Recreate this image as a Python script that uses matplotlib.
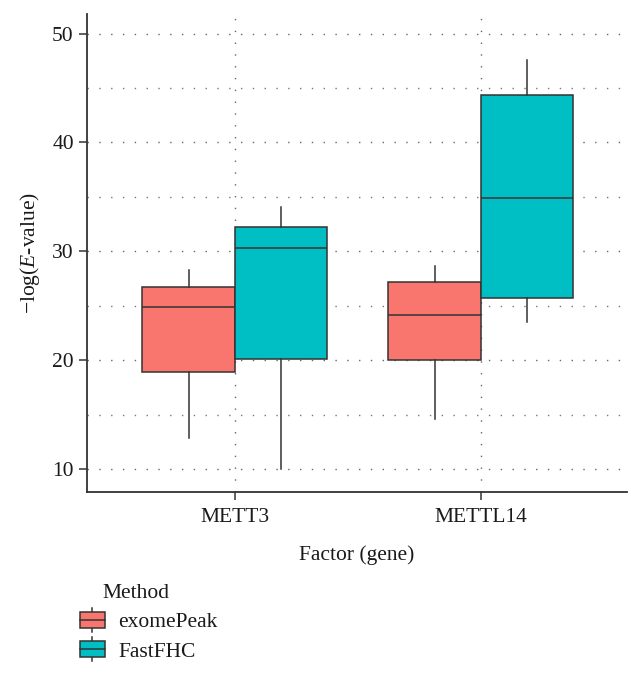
import matplotlib
matplotlib.use("Agg")
import matplotlib.pyplot as plt
from matplotlib.legend_handler import HandlerBase
from matplotlib.patches import Rectangle, Patch
from matplotlib.lines import Line2D
import numpy as np

genes = ["METT3", "METTL14"]
methods = ["exomePeak", "FastFHC"]
colors = ["#F8766D", "#00BFC4"]

# per method, per gene
whislo = {"exomePeak": [12.9, 14.6], "FastFHC": [10.0, 23.5]}
q1 = {"exomePeak": [18.9, 20.0], "FastFHC": [20.1, 25.7]}
med = {"exomePeak": [24.9, 24.2], "FastFHC": [30.3, 34.9]}
q3 = {"exomePeak": [26.7, 27.2], "FastFHC": [32.2, 44.4]}
whishi = {"exomePeak": [28.3, 28.7], "FastFHC": [34.1, 47.6]}

plt.rcParams["font.family"] = ["Liberation Serif", "DejaVu Serif"]
plt.rcParams["mathtext.fontset"] = "custom"
plt.rcParams["mathtext.rm"] = "Liberation Serif"
plt.rcParams["mathtext.it"] = "Liberation Serif:italic"

FS = 15.5
edge = "#333333"
txt = "#1a1a1a"
fig = plt.figure(figsize=(6.42, 6.75), dpi=100)
ax = fig.add_axes([0.1355, 0.2711, 0.8411, 0.7082])

width = 0.375
for mi, m in enumerate(methods):
    offset = (mi - 0.5) * width
    stats = []
    for gi in range(len(genes)):
        stats.append(dict(whislo=whislo[m][gi], q1=q1[m][gi], med=med[m][gi],
                          q3=q3[m][gi], whishi=whishi[m][gi], fliers=[]))
    pos = np.arange(len(genes)) + offset
    ax.bxp(stats, positions=pos, widths=width, patch_artist=True,
           showcaps=False, showfliers=False, manage_ticks=False,
           boxprops=dict(facecolor=colors[mi], edgecolor=edge, linewidth=1.1),
           medianprops=dict(color=edge, linewidth=1.1),
           whiskerprops=dict(color=edge, linewidth=1.1), zorder=3)

ax.set_xlim(-0.6, 1.594)
ax.set_ylim(7.9, 51.8)
ax.set_xticks(range(len(genes)))
ax.set_xticklabels(genes)
ax.set_yticks([10, 20, 30, 40, 50])
ax.set_yticks([15, 25, 35, 45], minor=True)

grid_ls = (0, (1, 7.5))
ax.grid(True, which="major", axis="both", color="#666666", linewidth=1.0, linestyle=grid_ls, zorder=0)
ax.grid(True, which="minor", axis="y", color="#777777", linewidth=1.0, linestyle=grid_ls, zorder=0)
ax.set_axisbelow(True)

for s in ["top", "right"]:
    ax.spines[s].set_visible(False)
for s in ["left", "bottom"]:
    ax.spines[s].set_color(edge)
    ax.spines[s].set_linewidth(1.3)
ax.tick_params(axis="both", which="major", direction="out", length=5.5, width=1.1,
               color=edge, labelsize=FS, labelcolor=txt)
ax.tick_params(axis="y", which="major", pad=4)
ax.tick_params(axis="x", which="major", pad=6)
ax.tick_params(axis="y", which="minor", length=0)

ax.set_xlabel("Factor (gene)", fontsize=FS, color=txt, labelpad=13)
ax.set_ylabel("\u2212log($\\mathit{E}$-value)", fontsize=FS, color=txt, labelpad=7)


class BoxHandler(HandlerBase):
    def create_artists(self, legend, orig_handle, xdescent, ydescent, width, height, fontsize, trans):
        fc = orig_handle.get_facecolor()
        w = width
        h = height
        x0 = -xdescent
        y0 = -ydescent
        rect = Rectangle((x0, y0), w, h, facecolor=fc, edgecolor=edge,
                         linewidth=1.1, transform=trans)
        cx = x0 + w / 2
        medl = Line2D([x0, x0 + w], [y0 + h / 2] * 2, color=edge, linewidth=1.1, transform=trans)
        stub = 0.25 * h
        w1 = Line2D([cx, cx], [y0 + h, y0 + h + stub], color=edge, linewidth=1.1, transform=trans)
        w2 = Line2D([cx, cx], [y0, y0 - stub], color=edge, linewidth=1.1, transform=trans)
        return [w1, w2, rect, medl]


fig.text(102 / 642, 1 - 593 / 675, "Method", fontsize=FS, color=txt, ha="left", va="center")

handles = [Patch(facecolor=c) for c in colors]
leg = fig.legend(handles, methods, loc="upper left",
                 bbox_to_anchor=(80 / 642, 1 - 612 / 675),
                 bbox_transform=fig.transFigure, frameon=False, fontsize=FS,
                 handler_map={Patch: BoxHandler()},
                 handlelength=1.16, handleheight=0.75, handletextpad=0.62,
                 labelspacing=0.42, borderaxespad=0, borderpad=0)
for t in leg.get_texts():
    t.set_color(txt)

fig.savefig("out.png", dpi=100)
